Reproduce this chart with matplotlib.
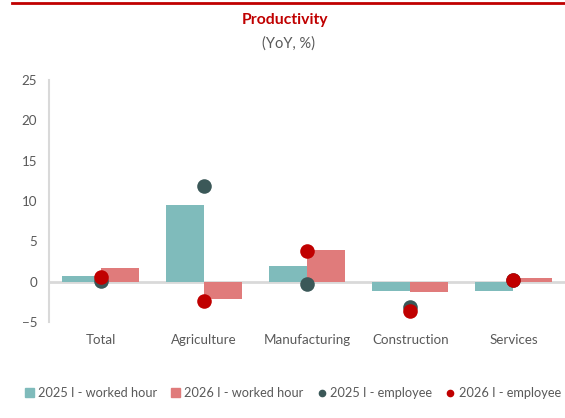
import matplotlib
matplotlib.use("Agg")
from matplotlib import pyplot as plt
from matplotlib.lines import Line2D
from matplotlib.patches import Patch
import numpy as np

plt.rcParams['font.family'] = ['Lato', 'DejaVu Sans']

categories = ['Total', 'Agriculture', 'Manufacturing', 'Construction', 'Services']
hours_2025 = [0.7, 9.5, 2.0, -1.2, -1.1]
hours_2026 = [1.7, -2.2, 3.9, -1.3, 0.5]
emp_2025 = [0.1, 11.8, -0.3, -3.1, 0.2]
emp_2026 = [0.6, -2.4, 3.8, -3.6, 0.2]
yticks = [-5, 0, 5, 10, 15, 20, 25]

c_teal = '#7fbbbb'
c_pink = '#e07b7b'
c_dark = '#3b5858'
c_red = '#c00000'
c_grey = '#595959'
c_line = '#d9d9d9'

fig = plt.figure(figsize=(5.65, 4.18), dpi=100)
ax = fig.add_axes([49 / 565, 1 - 322 / 418, 516 / 565, 242 / 418])

x = np.arange(len(categories))
w = 0.37
ax.bar(x - w / 2, hours_2025, w, color=c_teal, zorder=2)
ax.bar(x + w / 2, hours_2026, w, color=c_pink, zorder=2)
ax.scatter(x, emp_2025, s=110, color=c_dark, zorder=4, linewidths=0)
ax.scatter(x, emp_2026, s=110, color=c_red, zorder=5, linewidths=0)

ax.axhline(0, color=c_line, lw=2, zorder=1)
ax.set_xlim(-0.5, len(categories) - 0.5)
ax.set_ylim(-5, 25)
ax.set_yticks(yticks)
ax.set_xticks(x)
ax.set_xticklabels(categories)
ax.tick_params(length=0, labelsize=9.6, colors=c_grey)
ax.tick_params(axis='x', pad=9)
ax.tick_params(axis='y', pad=8.5)
for s in ['top', 'right', 'bottom']:
    ax.spines[s].set_visible(False)
ax.spines['left'].set_color(c_line)
ax.spines['left'].set_linewidth(1.5)

# header: red rule, title and subtitle
fig.add_artist(Line2D([12 / 565, 1], [1 - 3 / 418, 1 - 3 / 418], color=c_red, lw=2))
fig.text(0.505, 1 - 20 / 418, 'Productivity', ha='center', va='center',
         color=c_red, fontsize=11.3, fontweight='bold')
fig.text(0.51, 1 - 44 / 418, '(YoY, %)', ha='center', va='center',
         color=c_grey, fontsize=10.5)

handles = [
    Patch(color=c_teal, label='2025 I - worked hour'),
    Patch(color=c_pink, label='2026 I - worked hour'),
    Line2D([], [], ls='', marker='o', ms=4.5, color=c_dark, label='2025 I - employee'),
    Line2D([], [], ls='', marker='o', ms=4.5, color=c_red, label='2026 I - employee'),
]
fig.legend(handles=handles, loc='center', bbox_to_anchor=(293 / 565, 1 - 393 / 418),
           ncol=4, frameon=False, fontsize=9.2, labelcolor=c_grey,
           handlelength=0.7, handleheight=0.7, handletextpad=0.3, columnspacing=1.1)

fig.savefig('out.png', dpi=100)
